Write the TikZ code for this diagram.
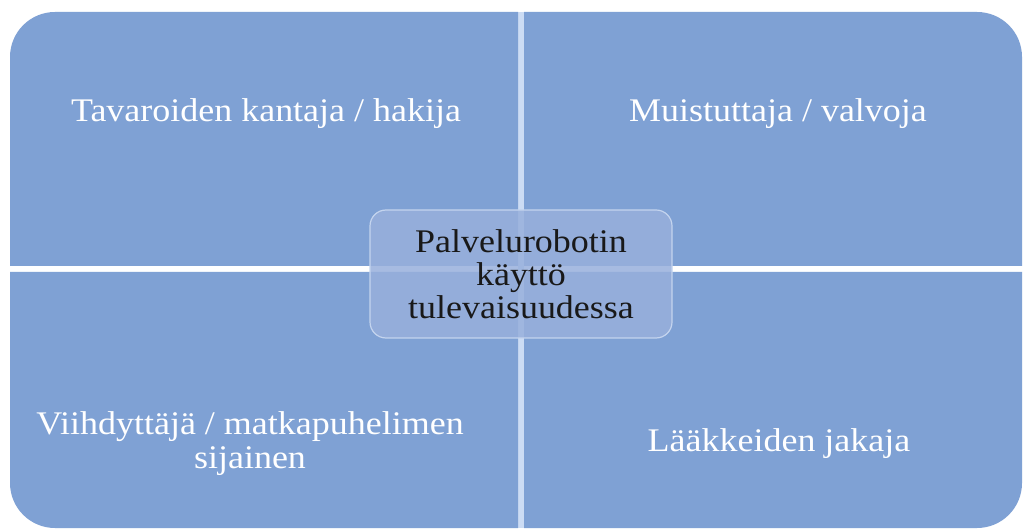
\documentclass[tikz,border=0pt]{standalone}
\usepackage{fontspec}
\setmainfont{Liberation Serif}
\definecolor{quad}{RGB}{127,161,212}
\definecolor{gapc}{RGB}{204,220,244}
\definecolor{cfill}{RGB}{152,176,220}
\definecolor{cedge}{RGB}{196,212,238}
\newcommand{\wsx}[1]{\scalebox{1.09}[1]{#1}}
\begin{document}
\begin{tikzpicture}[x=1pt,y=1pt,
  quadtext/.style={text=white,font=\fontsize{33}{34}\selectfont,align=center},
  centertext/.style={text=black!90,font=\fontsize{33}{33}\selectfont,align=center}]
\useasboundingbox (0,0) rectangle (1024,530);
\fill[white] (0,0) rectangle (1024,530);
% gap cross
\fill[gapc] (518,2) rectangle (524,518);
\fill[gapc] (11,264) rectangle (1022,272);
% quadrants
\fill[quad] (10,264) -- (10,473) arc[start angle=180,end angle=90,radius=45] -- (518,518) -- (518,264) -- cycle;
\fill[quad] (524,264) -- (524,518) -- (977,518) arc[start angle=90,end angle=0,radius=45] -- (1022,264) -- cycle;
\fill[quad] (10,258) -- (10,47) arc[start angle=180,end angle=270,radius=45] -- (518,2) -- (518,258) -- cycle;
\fill[quad] (524,258) -- (524,2) -- (977,2) arc[start angle=270,end angle=360,radius=45] -- (1022,258) -- cycle;
% labels
\node[quadtext] (tl) at (266,416) {\wsx{Tavaroiden kantaja / hakija}};
\node[quadtext] (tr) at (778,416) {\wsx{Muistuttaja / valvoja}};
\node[quadtext] (bl) at (250,86) {\wsx{Viihdyttäjä / matkapuhelimen}\\\wsx{sijainen}};
\node[quadtext] (br) at (779,86) {\wsx{Lääkkeiden jakaja}};
% center
\node[draw=cedge,line width=1.2pt,fill=cfill,fill opacity=0.85,text opacity=1,rounded corners=16pt,
  minimum width=302pt,minimum height=128pt,centertext] (c) at (521,256)
  {\wsx{Palvelurobotin}\\\wsx{käyttö}\\\wsx{tulevaisuudessa}};
\end{tikzpicture}
\end{document}
